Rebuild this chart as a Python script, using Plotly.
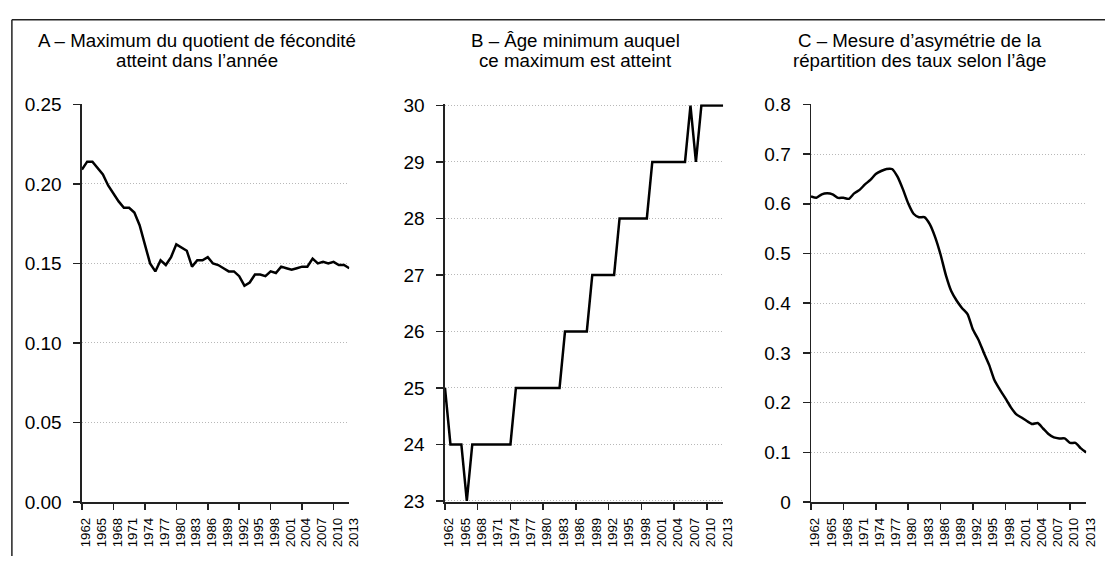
import plotly.graph_objects as go

years = list(range(1962, 2014))

max_quotient = [0.209, 0.214, 0.214, 0.210, 0.206, 0.199, 0.194, 0.189, 0.185, 0.185,
                0.182, 0.174, 0.162, 0.150, 0.145, 0.152, 0.149, 0.154, 0.162, 0.160,
                0.158, 0.148, 0.152, 0.152, 0.154, 0.150, 0.149, 0.147, 0.145, 0.145,
                0.142, 0.136, 0.138, 0.143, 0.143, 0.142, 0.145, 0.144, 0.148, 0.147,
                0.146, 0.147, 0.148, 0.148, 0.153, 0.150, 0.151, 0.150, 0.151, 0.149,
                0.149, 0.147]

age_at_max = [25, 24, 24, 24, 23, 24, 24, 24, 24, 24,
              24, 24, 24, 25, 25, 25, 25, 25, 25, 25,
              25, 25, 26, 26, 26, 26, 26, 27, 27, 27,
              27, 27, 28, 28, 28, 28, 28, 28, 29, 29,
              29, 29, 29, 29, 29, 30, 29, 30, 30, 30,
              30, 30]

asymmetry = [0.615, 0.612, 0.619, 0.621, 0.619, 0.612, 0.612, 0.610, 0.621, 0.628,
             0.639, 0.648, 0.660, 0.666, 0.670, 0.670, 0.655, 0.630, 0.601, 0.580,
             0.573, 0.573, 0.559, 0.533, 0.498, 0.456, 0.424, 0.405, 0.390, 0.378,
             0.347, 0.327, 0.301, 0.276, 0.245, 0.226, 0.209, 0.191, 0.177, 0.170,
             0.163, 0.157, 0.159, 0.148, 0.137, 0.130, 0.128, 0.128, 0.119, 0.119,
             0.108, 0.100]

label_years = list(range(1962, 2014, 3))
mark_years = list(range(1962, 2014, 6))

titles = [
    ["A – Maximum du quotient de fécondité", "atteint dans l’année"],
    ["B – Âge minimum auquel", "ce maximum est atteint"],
    ["C – Mesure d’asymétrie de la", "répartition des taux selon l’âge"],
]

W, H = 1116, 567
FONT = "Liberation Sans, Arial, sans-serif"


def fx(px):
    return px / W


def fy(py):
    return 1 - py / H


x_px = [(79, 350), (447, 729), (818, 1097)]
title_cx = [196, 579, 928]
y_top, y_bot = 98, 511
ydom = [fy(y_bot), fy(y_top)]

series = [max_quotient, age_at_max, asymmetry]
shapes_line = ["linear", "linear", "spline"]
yranges = [[0, 0.25], [22.98, 30.02], [0, 0.8]]
yticks = [
    [0, 0.05, 0.10, 0.15, 0.20, 0.25],
    [23, 24, 25, 26, 27, 28, 29, 30],
    [0, 0.1, 0.2, 0.3, 0.4, 0.5, 0.6, 0.7, 0.8],
]
ytext = [
    ["0.00", "0.05", "0.10", "0.15", "0.20", "0.25"],
    ["23", "24", "25", "26", "27", "28", "29", "30"],
    ["0", "0.1", "0.2", "0.3", "0.4", "0.5", "0.6", "0.7", "0.8"],
]

fig = go.Figure()
layout = dict(
    width=W, height=H, margin=dict(l=0, r=0, t=0, b=0),
    paper_bgcolor="white", plot_bgcolor="white", showlegend=False,
    font=dict(family=FONT, color="black"),
)
annotations = []

for i in range(3):
    xa = "x" if i == 0 else f"x{i+1}"
    ya = "y" if i == 0 else f"y{i+1}"
    xo = f"x{i+4}"
    xkey = "xaxis" if i == 0 else f"xaxis{i+1}"
    ykey = "yaxis" if i == 0 else f"yaxis{i+1}"
    xokey = f"xaxis{i+4}"
    dom = [fx(x_px[i][0]), fx(x_px[i][1])]

    fig.add_trace(go.Scatter(
        x=years, y=series[i], mode="lines", xaxis=xa, yaxis=ya,
        line=dict(color="black", width=2.5, shape=shapes_line[i], smoothing=0.6),
        hoverinfo="skip",
    ))
    # invisible trace so the label axis gets drawn
    fig.add_trace(go.Scatter(
        x=years, y=series[i], mode="lines", xaxis=xo, yaxis=ya,
        line=dict(color="rgba(0,0,0,0)", width=0), hoverinfo="skip",
    ))

    layout[xkey] = dict(
        domain=dom, anchor=ya, range=[1962, 2013],
        tickmode="array", tickvals=mark_years, showticklabels=False,
        ticks="outside", ticklen=6, tickwidth=1.5, tickcolor="#222",
        showline=True, linecolor="#222", linewidth=1.5,
        showgrid=False, zeroline=False, fixedrange=True,
    )
    layout[xokey] = dict(
        overlaying=xa, anchor=ya, side="bottom", range=[1962, 2013],
        tickmode="array", tickvals=label_years, ticktext=[str(y) for y in label_years],
        tickangle=-90, tickfont=dict(family=FONT, size=13.3, color="black"),
        ticks="", showline=False, showgrid=False, zeroline=False,
        ticklabelstandoff=12, ticklabelshift=4, fixedrange=True,
    )
    layout[ykey] = dict(
        domain=ydom, anchor=xa, range=yranges[i],
        tickmode="array", tickvals=yticks[i], ticktext=ytext[i],
        tickfont=dict(family=FONT, size=19, color="black"),
        ticks="outside", ticklen=7, tickwidth=1.5, tickcolor="#222",
        showline=True, linecolor="#222", linewidth=1.5,
        showgrid=True, gridcolor="#b8b8b8", gridwidth=1, griddash="1px,2px",
        zeroline=False, ticklabelstandoff=8, fixedrange=True,
    )

    for j, (txt, yc) in enumerate(zip(titles[i], [32, 52])):
        annotations.append(dict(
            text=txt, xref="paper", yref="paper",
            x=fx(title_cx[i]), y=fy(yc), xanchor="center", yanchor="middle",
            showarrow=False, font=dict(family=FONT, size=18.7, color="black"),
        ))

layout["annotations"] = annotations
layout["shapes"] = [
    dict(type="line", xref="paper", yref="paper", x0=fx(8), x1=1, y0=fy(10), y1=fy(10),
         line=dict(color="#222", width=1.5)),
    dict(type="line", xref="paper", yref="paper", x0=fx(8), x1=fx(8), y0=0, y1=fy(10),
         line=dict(color="#222", width=1.5)),
]
fig.update_layout(**layout)
fig.write_html(
    "out.html",
    config={"displayModeBar": False, "staticPlot": True},
    post_script=(
        "document.documentElement.style.margin='0';"
        "document.documentElement.style.overflow='hidden';"
        "document.body.style.margin='0';"
        "document.body.style.overflow='hidden';"
    ),
)
